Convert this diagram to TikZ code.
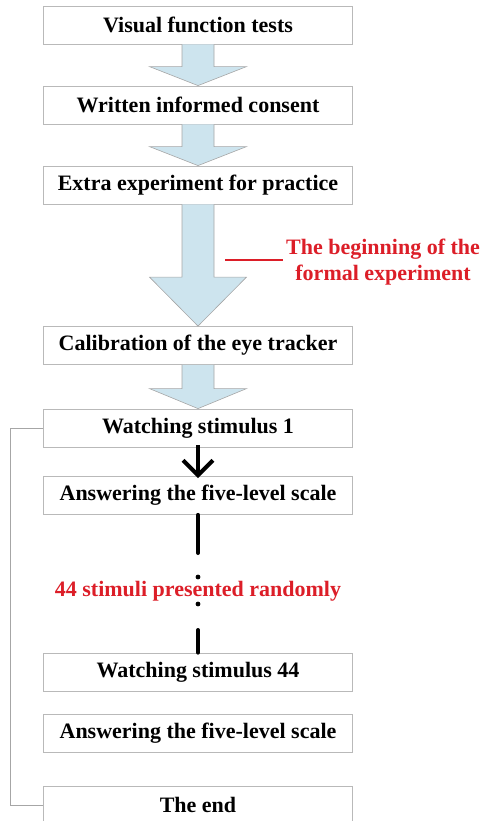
\documentclass[tikz,border=0pt]{standalone}
\usepackage{fontspec}
\setmainfont{Liberation Serif}
\usepackage{tikz}
\usetikzlibrary{arrows.meta}
\usetikzlibrary{calc}

\definecolor{arrowblue}{RGB}{205,228,238}
\definecolor{labelred}{RGB}{220,30,40}

\tikzset{
  stepbox/.style={draw=gray!55, line width=0.8pt, fill=white, minimum width=309pt,
    minimum height=38pt, inner sep=0pt, font=\fontsize{22}{26}\selectfont\bfseries},
  bluearrow/.style={draw=gray!70, line width=0.6pt, fill=arrowblue},
  redlabel/.style={text=labelred, font=\fontsize{22}{26}\selectfont\bfseries, align=center},
  thickline/.style={line width=4pt, line cap=round},
  loopline/.style={draw=gray!70, line width=0.8pt}
}

% block arrow: from node, to node, head length
\newcommand{\flowarrow}[3]{%
\filldraw[bluearrow] ($(#1.south)+(-16,0)$) -- ($(#2.north)+(-16,-#3)$)
  -- ($(#2.north)+(-48.5,-#3)$) -- (#2.north) -- ($(#2.north)+(48.5,-#3)$)
  -- ($(#2.north)+(16,-#3)$) -- ($(#1.south)+(16,0)$);}

\begin{document}
\begin{tikzpicture}[x=1pt,y=-1pt]
\useasboundingbox (0,0) rectangle (483,821);

\node[stepbox] (vis)   at (198,25)    {Visual function tests};
\node[stepbox] (cons)  at (198,105)   {Written informed consent};
\node[stepbox] (extra) at (198,185)   {Extra experiment for practice};
\node[stepbox] (calib) at (198,345.5) {Calibration of the eye tracker};
\node[stepbox] (watch1) at (198,428)  {Watching stimulus 1};
\node[stepbox] (ans1)  at (198,495.5) {Answering the five-level scale};
\node[stepbox] (watch44) at (198,672) {Watching stimulus 44};
\node[stepbox] (ans44) at (198,733)   {Answering the five-level scale};
\node[stepbox] (theend) at (198,805)  {The end};

\flowarrow{vis}{cons}{19}
\flowarrow{cons}{extra}{19}
\flowarrow{extra}{calib}{49}
\flowarrow{calib}{watch1}{20}

% start of the formal part
\coordinate (markL) at (225,260);
\coordinate (markR) at (283,260);
\draw[labelred, line width=2.5pt] (markL) -- (markR);
\node[redlabel, anchor=west, inner sep=1pt] (formal) at ($(markR)+(2,2)$) {The beginning of the\\formal experiment};

\draw[line width=4pt, -{Straight Barb[length=15pt,width=30pt]}] ($(watch1.south)+(0,-2)$) -- ($(ans1.north)+(0,2)$);

% random presentation
\node[redlabel] (rand) at (198,591) {44 stimuli presented randomly};
\coordinate (gapA) at (198,553);
\coordinate (gapB) at (198,630);
\draw[thickline] (ans1.south) -- (gapA);
\fill (198,577) circle (2.4pt) (198,604) circle (2.4pt);
\draw[thickline] (gapB) -- (watch44.north);

\draw[loopline] (watch1.west) -- ++(-33,0) |- (theend.west);
\end{tikzpicture}
\end{document}
